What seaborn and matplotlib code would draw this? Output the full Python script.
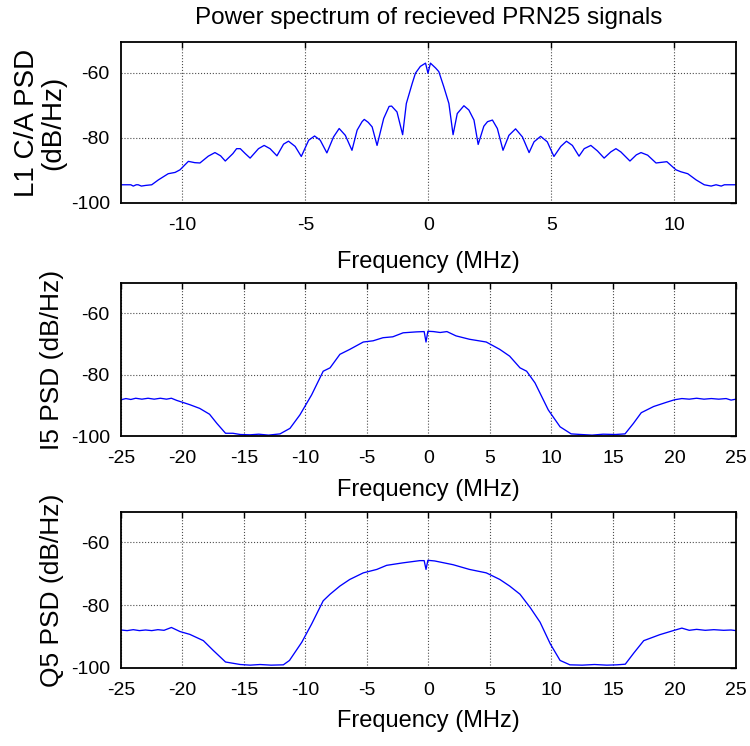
import matplotlib
matplotlib.use("Agg")
import matplotlib.pyplot as plt
import seaborn as sns

# L1 C/A spectrum (MHz, dB/Hz)
l1_freq = [-12.54, -12.1, -12.0, -11.88, -11.8, -11.67, -11.5, -11.25, -10.98, -10.58,
           -10.3, -10.1, -9.76, -9.5, -9.29, -8.95, -8.68, -8.45, -8.26, -7.95,
           -7.8, -7.65, -7.45, -7.25, -6.91, -6.68, -6.44, -6.16, -5.89, -5.69,
           -5.42, -5.17, -4.87, -4.63, -4.4, -4.13, -3.86, -3.63, -3.38, -3.11,
           -2.9, -2.7, -2.61, -2.45, -2.29, -2.09, -1.82, -1.6, -1.5, -1.28,
           -1.05, -0.9, -0.66, -0.53, -0.33, -0.12, -0.02, 0.08, 0.29, 0.42,
           0.62, 0.83, 1.0, 1.17, 1.44, 1.64, 1.85, 2.02, 2.25, 2.4,
           2.6, 2.8, 3.03, 3.27, 3.54, 3.82, 4.09, 4.29, 4.56, 4.83,
           5.1, 5.38, 5.61, 5.85, 6.12, 6.33, 6.6, 6.87, 7.14, 7.41,
           7.62, 7.82, 8.19, 8.45, 8.64, 8.91, 9.25, 9.69, 10.06, 10.26,
           10.54, 10.88, 11.21, 11.49, 11.69, 11.9, 12.03, 12.54]
l1_psd = [-94.4, -94.4, -94.8, -94.4, -94.4, -94.8, -94.6, -94.4, -92.9, -91.0,
          -90.6, -89.8, -87.2, -87.6, -87.7, -85.6, -84.5, -85.5, -87.1, -84.8,
          -83.3, -83.3, -84.8, -86.2, -83.3, -82.3, -83.3, -85.5, -81.9, -81.0,
          -82.6, -85.7, -80.7, -79.4, -80.7, -84.6, -79.7, -77.1, -79.2, -83.8,
          -77.6, -75.0, -74.3, -75.2, -76.6, -82.3, -74.0, -70.3, -70.2, -72.0,
          -79.0, -69.4, -63.2, -60.1, -58.0, -57.0, -60.1, -57.0, -58.5, -59.6,
          -64.2, -69.4, -79.0, -72.5, -70.1, -71.4, -74.5, -82.0, -76.4, -75.0,
          -74.5, -77.1, -83.8, -79.2, -77.2, -79.7, -84.5, -81.2, -79.5, -81.2,
          -85.7, -82.6, -81.0, -82.3, -85.6, -83.3, -82.3, -84.0, -86.2, -84.3,
          -83.3, -84.3, -87.1, -85.2, -84.5, -85.3, -87.7, -87.3, -89.8, -90.4,
          -91.0, -92.9, -94.4, -94.8, -94.4, -94.8, -94.4, -94.4]

# I5 spectrum
i5_freq = [-25.0, -24.6, -24.2, -23.8, -23.3, -22.8, -22.3, -21.8, -21.3, -20.9,
           -20.47, -19.4, -18.6, -17.8, -17.2, -16.5, -15.9, -15.3, -14.5, -13.8,
           -13.0, -12.07, -11.26, -10.45, -9.5, -8.56, -8.0, -7.2, -6.4, -5.3,
           -4.5, -3.7, -2.9, -2.06, -0.98, -0.35, -0.2, -0.05, 0.4, 0.95,
           1.5, 2.24, 3.33, 4.7, 5.8, 6.6, 7.44, 7.98, 8.66, 9.74,
           10.7, 11.6, 12.4, 13.3, 14.2, 15.2, 15.98, 16.66, 17.3, 18.3,
           19.36, 20.0, 20.6, 21.2, 21.8, 22.4, 23.0, 23.6, 24.2, 24.6, 25.0]
i5_psd = [-88.2, -87.8, -88.1, -87.7, -88.0, -87.7, -88.0, -87.7, -88.0, -87.7,
          -88.4, -89.8, -91.0, -92.9, -95.9, -99.1, -99.1, -99.5, -99.6, -99.4,
          -99.7, -99.3, -97.5, -93.1, -86.6, -78.9, -77.8, -73.4, -71.8, -69.4,
          -69.0, -68.0, -67.7, -66.4, -66.1, -66.0, -69.4, -65.9, -66.0, -66.3,
          -66.0, -67.4, -68.5, -69.4, -71.8, -74.0, -77.8, -78.9, -82.7, -91.5,
          -97.0, -99.3, -99.5, -99.7, -99.4, -99.5, -99.3, -95.9, -92.4, -90.4,
          -89.0, -88.2, -87.8, -88.0, -87.7, -88.0, -87.8, -88.0, -87.8, -88.3, -88.0]

# Q5 spectrum
q5_freq = [-25.0, -24.5, -24.0, -23.5, -23.0, -22.5, -22.0, -21.5, -20.9, -20.2,
           -19.4, -18.3, -17.5, -16.5, -15.3, -14.5, -13.7, -12.8, -11.8, -11.3,
           -10.3, -9.5, -8.56, -8.0, -7.2, -6.4, -5.3, -4.2, -3.4, -2.06,
           -0.7, -0.35, -0.2, -0.05, 0.5, 2.0, 3.33, 4.7, 5.8, 6.6,
           7.44, 8.26, 9.07, 9.9, 10.7, 11.5, 12.5, 13.5, 14.5, 15.3,
           16.0, 16.7, 17.5, 18.8, 19.9, 20.6, 21.2, 21.8, 22.5, 23.2,
           24.0, 24.6, 25.0]
q5_psd = [-87.9, -88.1, -87.8, -88.1, -87.9, -88.1, -87.8, -88.0, -87.1, -88.4,
          -89.3, -91.3, -94.4, -98.1, -98.9, -99.1, -98.9, -99.1, -99.0, -97.6,
          -91.8, -86.0, -78.6, -76.5, -73.9, -71.8, -69.7, -68.6, -67.3, -66.5,
          -65.8, -65.8, -68.6, -65.7, -65.9, -67.1, -68.6, -69.7, -71.8, -73.9,
          -76.5, -80.7, -85.4, -92.3, -97.6, -99.0, -99.1, -98.9, -99.1, -99.0,
          -98.8, -95.2, -91.3, -89.4, -88.1, -87.3, -88.0, -87.7, -88.0, -87.8,
          -88.0, -87.9, -88.1]

l1_xticks = [-10, -5, 0, 5, 10]
wide_xticks = [-25, -20, -15, -10, -5, 0, 5, 10, 15, 20, 25]
y_ticks = [-100, -80, -60]

sns.set_style("white")
plt.rcParams["font.family"] = ["Liberation Sans", "DejaVu Sans"]
plt.rcParams["axes.unicode_minus"] = False
plt.rcParams["text.color"] = "black"
plt.rcParams["axes.labelcolor"] = "black"

fig = plt.figure(figsize=(7.5, 7.46), dpi=100)

panels = [
    # position, x, y, xlim, ylim, xticks, ylabel, xlabel pad, ylabel pad, ylabel size
    ([0.1613, 0.7279, 0.82, 0.2158], l1_freq, l1_psd, (-12.5, 12.5), (-100, -50.5),
     l1_xticks, "L1 C/A PSD\n(dB/Hz)", 12, 3, 20),
    ([0.1613, 0.4155, 0.82, 0.2051], i5_freq, i5_psd, (-25, 25), (-100, -50.2),
     wide_xticks, "I5 PSD (dB/Hz)", 9, 5, 19),
    ([0.1613, 0.1046, 0.82, 0.2091], q5_freq, q5_psd, (-25, 25), (-100, -50.3),
     wide_xticks, "Q5 PSD (dB/Hz)", 8, 5, 19),
]

axes = []
for pos, fx, fy, xlim, ylim, xt, ylab, xpad, ypad, ysize in panels:
    ax = fig.add_axes(pos)
    sns.lineplot(x=fx, y=fy, ax=ax, color="#0000ff", linewidth=0.95,
                 estimator=None, sort=False)
    ax.set_xlim(*xlim)
    ax.set_ylim(*ylim)
    ax.set_xticks(xt)
    ax.set_yticks(y_ticks)
    ax.grid(True, linestyle=":", color="0.3", linewidth=0.8)
    ax.tick_params(direction="in", length=4, width=1, top=True, right=True,
                   labelsize=14, colors="black")
    ax.tick_params(axis="x", pad=10)
    ax.tick_params(axis="y", pad=8)
    for s in ax.spines.values():
        s.set_linewidth(1.3)
        s.set_color("black")
    ax.set_xlabel("Frequency (MHz)", fontsize=17, labelpad=xpad)
    ax.set_ylabel(ylab, fontsize=ysize, labelpad=ypad, linespacing=1.05)
    axes.append(ax)

axes[0].set_title("Power spectrum of recieved PRN25 signals", fontsize=17.5, pad=13)

fig.savefig("out.png", dpi=100)
